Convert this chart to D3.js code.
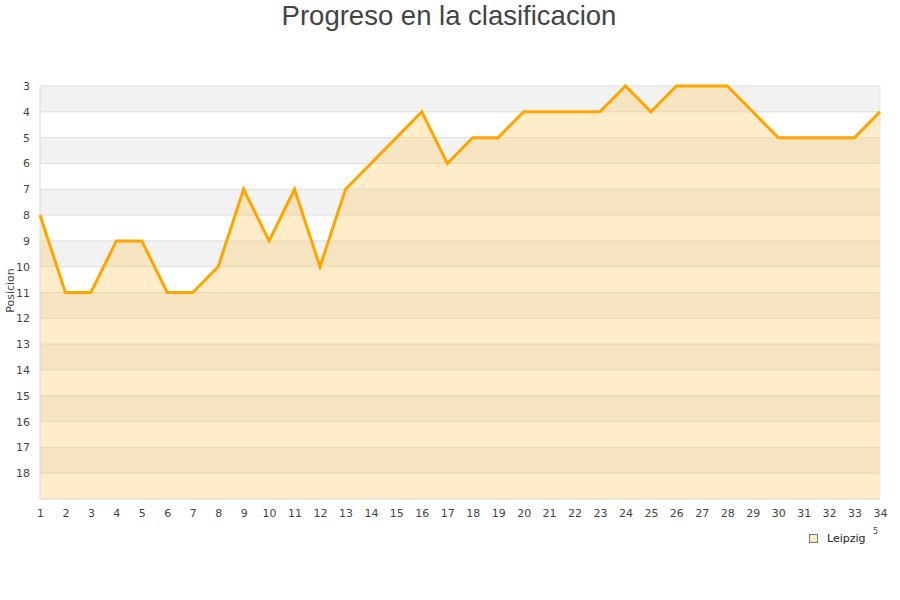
<!DOCTYPE html>
<html><head><meta charset="utf-8">
<script src="https://cdn.jsdelivr.net/npm/d3@7"></script>
<style>body{margin:0;background:#fff;} svg{display:block;}</style>
</head><body>
<script>
const rounds = d3.range(1, 35);
const positions = [8,11,11,9,9,11,11,10,7,9,7,10,7,6,5,4,6,5,5,4,4,4,4,3,4,3,3,3,4,5,5,5,5,4];
const yTicks = d3.range(3, 19);
const teamName = "Leipzig";
const titleText = "Progreso en la clasificacion";
const yTitle = "Posicion";

const W = 900, H = 600;
const m = {left: 40, right: 20, top: 86, bottom: 101};
const svg = d3.select("body").append("svg").attr("width", W).attr("height", H);

const x = d3.scaleLinear().domain([1, 34]).range([m.left, W - m.right]);
const y = d3.scaleLinear().domain([3, 19]).range([m.top, H - m.bottom]);

// bands
const bands = d3.range(3, 19);
svg.append("g").selectAll("rect").data(bands).join("rect")
  .attr("x", x(1)).attr("width", x(34) - x(1))
  .attr("y", d => y(d)).attr("height", d => y(d + 1) - y(d))
  .attr("fill", d => (d % 2 === 1) ? "#f2f2f2" : "#ffffff");

// grid lines
svg.append("g").selectAll("line").data(d3.range(3, 19)).join("line")
  .attr("x1", x(1)).attr("x2", x(34))
  .attr("y1", d => y(d)).attr("y2", d => y(d))
  .attr("stroke", "#dddddd").attr("stroke-width", 1);

const data = rounds.map((r, i) => ({r, p: positions[i]}));

// area
svg.append("path").datum(data)
  .attr("d", d3.area().x(d => x(d.r)).y0(y(19)).y1(d => y(d.p)))
  .attr("fill", "rgb(255,200,100)").attr("fill-opacity", 0.35);

// axes lines
svg.append("line").attr("x1", x(1)).attr("x2", x(1)).attr("y1", y(3)).attr("y2", y(19))
  .attr("stroke", "#d8d8d8");
svg.append("line").attr("x1", x(1)).attr("x2", x(34)).attr("y1", y(19)).attr("y2", y(19))
  .attr("stroke", "#d8d8d8");
svg.append("line").attr("x1", x(34)).attr("x2", x(34)).attr("y1", y(3)).attr("y2", y(19))
  .attr("stroke", "#e4e4e4");

// line
svg.append("path").datum(data)
  .attr("d", d3.line().x(d => x(d.r)).y(d => y(d.p)))
  .attr("fill", "none").attr("stroke", "#ffa500").attr("stroke-width", 3)
  .attr("stroke-linejoin", "miter");

// y tick labels
const yAxis = svg.append("g").attr("transform", `translate(${m.left},0)`)
  .call(d3.axisLeft(y).tickValues(yTicks).tickSize(0).tickPadding(10));
yAxis.select(".domain").remove();
yAxis.selectAll("text").attr("font-family", "DejaVu Sans, sans-serif").attr("font-size", 11).attr("fill", "#444");

// x tick labels
const xAxis = svg.append("g").attr("transform", `translate(0,${y(19)})`)
  .call(d3.axisBottom(x).tickValues(rounds).tickFormat(d3.format("d")).tickSize(0).tickPadding(10));
xAxis.select(".domain").remove();
xAxis.selectAll("text").attr("font-family", "DejaVu Sans, sans-serif").attr("font-size", 11).attr("fill", "#444");

// y title
svg.append("text").attr("transform", `translate(14,${(y(3)+y(19))/2 - 2}) rotate(-90)`)
  .attr("text-anchor", "middle").attr("font-family", "DejaVu Sans, sans-serif")
  .attr("font-size", 11).attr("fill", "#444").text(yTitle);

// title
svg.append("text").attr("x", W / 2 - 1).attr("y", 25).attr("text-anchor", "middle")
  .attr("font-family", "Liberation Sans, Arial, sans-serif").attr("font-size", 27.5)
  .attr("fill", "#444").text(titleText);

// legend
svg.append("rect").attr("x", 809.5).attr("y", 534.5).attr("width", 8).attr("height", 8)
  .attr("fill", "#fdebc8").attr("stroke", "#777").attr("stroke-width", 1);
svg.append("text").attr("x", 827).attr("y", 542).attr("font-family", "DejaVu Sans, sans-serif")
  .attr("font-size", 11).attr("fill", "#222").text(teamName);
svg.append("text").attr("x", 873).attr("y", 534).attr("font-family", "DejaVu Sans, sans-serif")
  .attr("font-size", 8).attr("fill", "#444").text("5");
</script>
</body></html>
